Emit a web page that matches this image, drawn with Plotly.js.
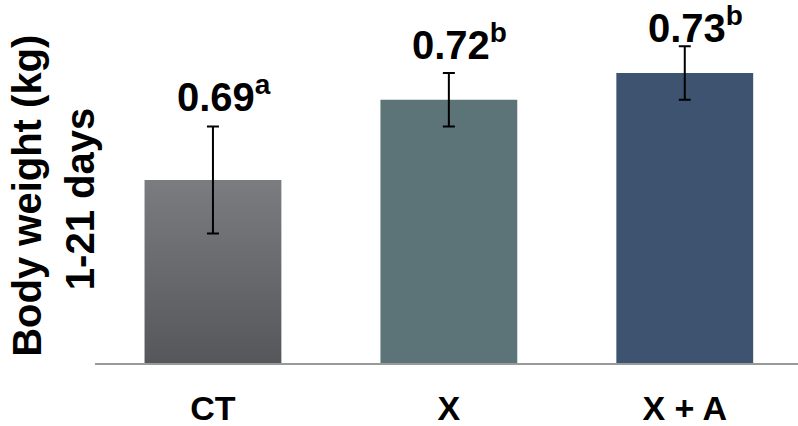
<!DOCTYPE html>
<html>
<head>
<meta charset="utf-8">
<script src="https://cdn.plot.ly/plotly-3.0.1.min.js"></script>
<style>
html,body{margin:0;padding:0;background:#fff;}
#chart{width:798px;height:426px;}
</style>
</head>
<body>
<div id="chart"></div>
<script>
var categories = ['CT', 'X', 'X + A'];
var values = [0.69, 0.72, 0.73];
var errors = [0.02, 0.01, 0.01];
var letters = ['a', 'b', 'b'];
var barColors = ['#6a6b6f', '#5c7377', '#3e5370'];
var labelShift = [6, 4, -6];
var titleLine1 = 'Body weight (kg)';
var titleLine2 = '1-21 days';

var FONT = 'Liberation Sans, Arial, sans-serif';

var trace = {
  type: 'bar',
  x: categories,
  y: values,
  marker: {color: barColors, line: {width: 0}},
  error_y: {type: 'data', array: errors, visible: true, color: '#000000', thickness: 2, width: 6},
  width: 0.58,
  hoverinfo: 'none'
};

var annotations = categories.map(function (c, i) {
  return {
    x: c, y: values[i] + errors[i], xref: 'x', yref: 'y',
    text: '<b>' + values[i].toFixed(2) + '<sup>' + letters[i] + '</sup></b>',
    showarrow: false, yanchor: 'bottom', xanchor: 'center', yshift: labelShift[i], xshift: 11,
    font: {family: FONT, size: 40, color: '#000'}
  };
});

annotations.push({
  xref: 'paper', yref: 'paper', x: -0.097, y: 0.46,
  text: '<b>' + titleLine1 + '</b>', textangle: -90, showarrow: false,
  xanchor: 'center', yanchor: 'middle',
  font: {family: FONT, size: 40, color: '#000'}
});
annotations.push({
  xref: 'paper', yref: 'paper', x: -0.022, y: 0.45,
  text: '<b>' + titleLine2 + '</b>', textangle: -90, showarrow: false,
  xanchor: 'center', yanchor: 'middle',
  font: {family: FONT, size: 40, color: '#000'}
});

var layout = {
  width: 798, height: 426,
  margin: {l: 95, r: 0, t: 0, b: 63},
  paper_bgcolor: '#ffffff', plot_bgcolor: '#ffffff',
  showlegend: false,
  xaxis: {
    range: [-0.5, 2.48], showgrid: false, zeroline: false,
    showline: true, linecolor: '#999999', linewidth: 2,
    ticks: '', ticklabelstandoff: 14,
    tickfont: {family: FONT, size: 34, color: '#000', weight: 'bold'},
    fixedrange: true
  },
  yaxis: {
    range: [0.6216, 0.7573], visible: false, showgrid: false, zeroline: false,
    fixedrange: true
  },
  annotations: annotations
};

function applyGradient(gd) {
  var ns = 'http://www.w3.org/2000/svg';
  var svg = gd.querySelector('svg.main-svg');
  var defs = svg.querySelector('defs');
  if (!defs) { defs = document.createElementNS(ns, 'defs'); svg.insertBefore(defs, svg.firstChild); }
  var ya = gd._fullLayout.yaxis;
  var yTop = ya.l2p(values[0]);
  var yBot = ya._length;
  var grad = document.createElementNS(ns, 'linearGradient');
  grad.setAttribute('id', 'ctgrad');
  grad.setAttribute('gradientUnits', 'userSpaceOnUse');
  grad.setAttribute('x1', '0'); grad.setAttribute('y1', String(yTop));
  grad.setAttribute('x2', '0'); grad.setAttribute('y2', String(yBot));
  [['0', '#7b7c80'], ['1', '#56575b']].forEach(function (s) {
    var st = document.createElementNS(ns, 'stop');
    st.setAttribute('offset', s[0]);
    st.setAttribute('stop-color', s[1]);
    grad.appendChild(st);
  });
  defs.appendChild(grad);
  var paths = gd.querySelectorAll('.barlayer .point path');
  if (paths.length) {
    paths[0].style.setProperty('fill', 'url(#ctgrad)', 'important');
  }
}

Plotly.newPlot('chart', [trace], layout, {staticPlot: true}).then(function (gd) {
  applyGradient(gd);
});
</script>
</body>
</html>
